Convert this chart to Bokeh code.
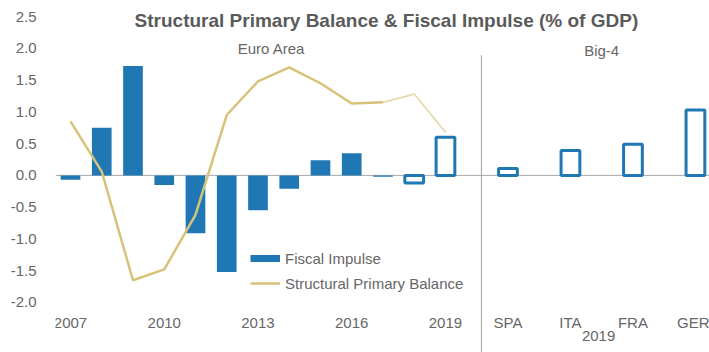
from bokeh.plotting import figure
from bokeh.models import (Range1d, FixedTicker, Span, Label, Legend, LegendItem,
                          Arrow, ColumnDataSource, NumeralTickFormatter)
from bokeh.embed import file_html
from bokeh.resources import INLINE

# ---------------- data ----------------
years = ["2007", "2008", "2009", "2010", "2011", "2012", "2013",
         "2014", "2015", "2016", "2017", "2018", "2019"]
fiscal_impulse = [-0.07, 0.75, 1.72, -0.15, -0.91, -1.52, -0.55,
                  -0.21, 0.24, 0.35, -0.02, -0.12, 0.60]
projection = [False] * 11 + [True, True]          # 2018, 2019 hollow
structural_primary_balance = [0.85, 0.06, -1.65, -1.48, -0.62, 0.95, 1.48,
                              1.70, 1.45, 1.13, 1.15, 1.28, 0.68]
big4 = ["SPA", "ITA", "FRA", "GER"]
big4_fiscal_impulse = [0.11, 0.39, 0.49, 1.03]
big4_year = "2019"
year_ticks = ["2007", "2010", "2013", "2016", "2019"]
y_ticks = [-2.0, -1.5, -1.0, -0.5, 0.0, 0.5, 1.0, 1.5, 2.0, 2.5]

# ---------------- style ----------------
BLUE = "#1F78B4"
GOLD = "#D8C27A"
GOLD_LIGHT = "#E6DAB0"
TEXT = "#666666"
FONT = "Liberation Sans"

xi = list(range(len(years)))
big4_x = [len(years) + 1 + 2 * j for j in range(len(big4))]

p = figure(width=709, height=352, output_backend="svg", toolbar_location=None,
           x_range=Range1d(-0.48, 20.45), y_range=Range1d(-2.787, 2.752),
           min_border_left=55, min_border_right=0, min_border_top=0,
           min_border_bottom=0)
p.outline_line_color = None
p.xgrid.visible = False
p.ygrid.visible = False
p.background_fill_color = "white"
p.border_fill_color = "white"

# zero line
p.add_layout(Span(location=0, dimension="width", line_color="#A8A8A8",
                  line_width=1, level="underlay"))

# bars (filled history)
src_f = ColumnDataSource(dict(
    x=[x for x, h in zip(xi, projection) if not h],
    top=[v for v, h in zip(fiscal_impulse, projection) if not h]))
bars = p.vbar(x="x", top="top", bottom=0, width=0.63, source=src_f,
              fill_color=BLUE, line_color=None)

# hollow bars (projections + big-4)
src_h = ColumnDataSource(dict(
    x=[x for x, h in zip(xi, projection) if h] + big4_x,
    top=[v for v, h in zip(fiscal_impulse, projection) if h] + big4_fiscal_impulse))
p.vbar(x="x", top="top", bottom=0, width=0.6, source=src_h,
       fill_color="white", line_color=BLUE, line_width=3)

# structural primary balance line
n_main = 11
spb_line = p.line(xi[:n_main], structural_primary_balance[:n_main],
                  line_color=GOLD, line_width=2.5)
p.line(xi[n_main - 1:], structural_primary_balance[n_main - 1:],
       line_color=GOLD_LIGHT, line_width=1.8)

# separator between euro area and big-4
p.add_layout(Arrow(end=None, x_start=13.15, y_start=1.89, x_end=13.15, y_end=-2.787,
                   line_color="#A0A0A0", line_width=1))

# axes
p.yaxis.ticker = FixedTicker(ticks=y_ticks)
p.yaxis.formatter = NumeralTickFormatter(format="0.0")
p.yaxis.axis_line_color = None
p.yaxis.major_tick_line_color = None
p.yaxis.minor_tick_line_color = None
p.yaxis.major_label_standoff = 13
p.yaxis.major_label_text_font = FONT
p.yaxis.major_label_text_font_size = "15px"
p.yaxis.major_label_text_color = TEXT

tick_pos = [years.index(y) for y in year_ticks] + big4_x
tick_lab = year_ticks + big4
p.xaxis.ticker = FixedTicker(ticks=tick_pos)
p.xaxis.major_label_overrides = {pos: lab for pos, lab in zip(tick_pos, tick_lab)}
p.xaxis.fixed_location = -2.0
p.xaxis.axis_line_color = None
p.xaxis.major_tick_line_color = None
p.xaxis.minor_tick_line_color = None
p.xaxis.major_label_standoff = 6
p.xaxis.major_label_text_font = FONT
p.xaxis.major_label_text_font_size = "15px"
p.xaxis.major_label_text_color = TEXT

# texts
p.add_layout(Label(x=10.11, y=2.44, text="Structural Primary Balance & Fiscal Impulse (% of GDP)",
                   text_align="center", text_baseline="middle", text_font=FONT,
                   text_font_size="19px", text_font_style="bold", text_color="#5A5A5A"))
p.add_layout(Label(x=6.43, y=2.0, text="Euro Area", text_align="center",
                   text_baseline="middle", text_font=FONT, text_font_size="15px",
                   text_color=TEXT))
p.add_layout(Label(x=17.0, y=1.965, text="Big-4", text_align="center",
                   text_baseline="middle", text_font=FONT, text_font_size="15px",
                   text_color=TEXT))
p.add_layout(Label(x=16.9, y=-2.53, text=big4_year, text_align="center",
                   text_baseline="middle", text_font=FONT, text_font_size="15px",
                   text_color=TEXT))

# legend (proxy line gives the thick bar swatch)
fi_proxy = p.line(x=[float("nan")], y=[float("nan")], line_color=BLUE, line_width=7)
legend = Legend(items=[LegendItem(label="Fiscal Impulse", renderers=[fi_proxy]),
                       LegendItem(label="Structural Primary Balance", renderers=[spb_line])],
                location=(195, 59), orientation="vertical", glyph_width=30,
                glyph_height=20, label_height=20, spacing=5, padding=0, margin=0,
                label_standoff=5, border_line_color=None, background_fill_alpha=0,
                label_text_font=FONT, label_text_font_size="15px",
                label_text_color=TEXT)
p.add_layout(legend)

open("out.html", "w").write(file_html(p, INLINE))
